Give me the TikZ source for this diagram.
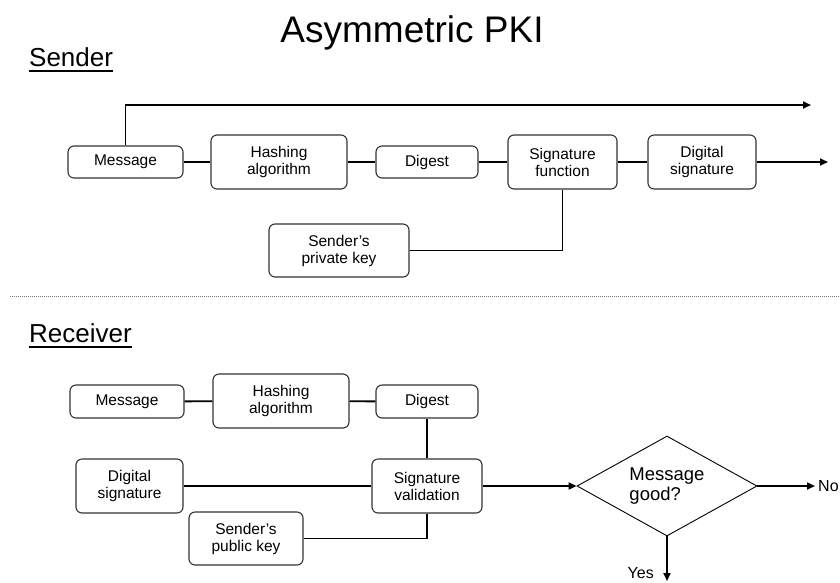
\documentclass[tikz,border=0pt]{standalone}
\usepackage{fontspec}
\setmainfont{Liberation Sans}
\usetikzlibrary{shapes.geometric,arrows.meta}

\newcommand{\boxfont}{\fontsize{15.5}{17}\selectfont}

\tikzset{
  blk/.style={draw=black!80, line width=1.1pt, rounded corners=6pt,
    align=center, inner sep=0pt, font=\boxfont},
  wire/.style={line width=1.9pt, black},
  arr/.style={wire, -{Triangle[length=8pt,width=7pt]}},
  heading/.style={anchor=base west, inner sep=0pt, font=\fontsize{26}{30}\selectfont},
  uline/.style={line width=1.8pt},
  decision/.style={draw=black, line width=0.9pt, diamond, shape aspect=1.8,
    minimum width=180pt, minimum height=100pt, inner sep=0pt, align=left,
    font=\fontsize{18.5}{20}\selectfont},
  answer/.style={inner sep=0pt, font=\fontsize{16}{18}\selectfont}
}

\begin{document}
\begin{tikzpicture}[x=1pt,y=-1pt]
\useasboundingbox (0,0) rectangle (840,582);

% title
\node[anchor=base, inner sep=0pt, font=\fontsize{37}{40}\selectfont] (title) at (412,42.5) {Asymmetric PKI};

% ---------------- sender side ----------------
\node[heading] (snd) at (29,66.7) {Sender};
\draw[uline] ([yshift=-4pt]snd.base west) -- ([yshift=-4pt]snd.base east);

\node[blk, minimum width=115pt, minimum height=32pt] (msgS)  at (125.5,162) {Message};
\node[blk, minimum width=136pt, minimum height=54pt] (hashS) at (279,162) {Hashing\\algorithm};
\node[blk, minimum width=102pt, minimum height=32pt] (digS)  at (427,162) {Digest};
\node[blk, minimum width=109pt, minimum height=54pt] (sigF)  at (562.5,162) {Signature\\function};
\node[blk, minimum width=108pt, minimum height=54pt] (dsigS) at (702,162) {Digital\\signature};
\node[blk, minimum width=140pt, minimum height=53pt] (priv)  at (339,250.5) {Sender's\\private key};

\coordinate (topEnd) at (811,105);
\coordinate (sigOut) at (828,162);

\draw[wire] (msgS) -- (hashS);
\draw[wire] (hashS) -- (digS);
\draw[wire] (digS) -- (sigF);
\draw[wire] (sigF) -- (dsigS);
\draw[arr] (dsigS.east) -- (sigOut);
\draw[arr] (msgS.north) |- (topEnd);
\draw[wire] (priv.east) -| (sigF.south);

% separator between the two halves
\draw[black!55, line width=1pt, dash pattern=on 1pt off 1pt] (10,296) -- (840,296);

% ---------------- receiver side ----------------
\node[heading] (rcv) at (29,342.3) {Receiver};
\draw[uline] ([yshift=-5pt]rcv.base west) -- ([yshift=-5pt]rcv.base east);

\node[blk, minimum width=114pt, minimum height=33pt] (msgR)  at (127,401.5) {Message};
\node[blk, minimum width=136pt, minimum height=54pt] (hashR) at (281,401) {Hashing\\algorithm};
\node[blk, minimum width=102pt, minimum height=33pt] (digR)  at (427,401.5) {Digest};
\node[blk, minimum width=107pt, minimum height=54pt] (dsigR) at (129.5,486) {Digital\\signature};
\node[blk, minimum width=110pt, minimum height=54pt] (sigV)  at (427,486) {Signature\\validation};
\node[blk, minimum width=114pt, minimum height=53pt] (pub)   at (246,538.5) {Sender's\\public key};

\node[decision] (good) at (667,486) {Message\\good?};

\coordinate (noEnd)  at (815,486);
\coordinate (yesEnd) at (667,581);
\node[answer, anchor=west] (no) at (818,486) {No};
\node[answer, anchor=base east] (yes) at (654,578.5) {Yes};

\draw[wire] (msgR) -- (hashR);
\draw[wire] (hashR) -- (digR);
\draw[wire] (digR) -- (sigV);
\draw[wire] (dsigR) -- (sigV);
\draw[wire] (pub.east) -| (sigV.south);
\draw[arr] (sigV.east) -- (good.west);
\draw[arr] (good.east) -- (noEnd);
\draw[arr] (good.south) -- (yesEnd);
\end{tikzpicture}
\end{document}
